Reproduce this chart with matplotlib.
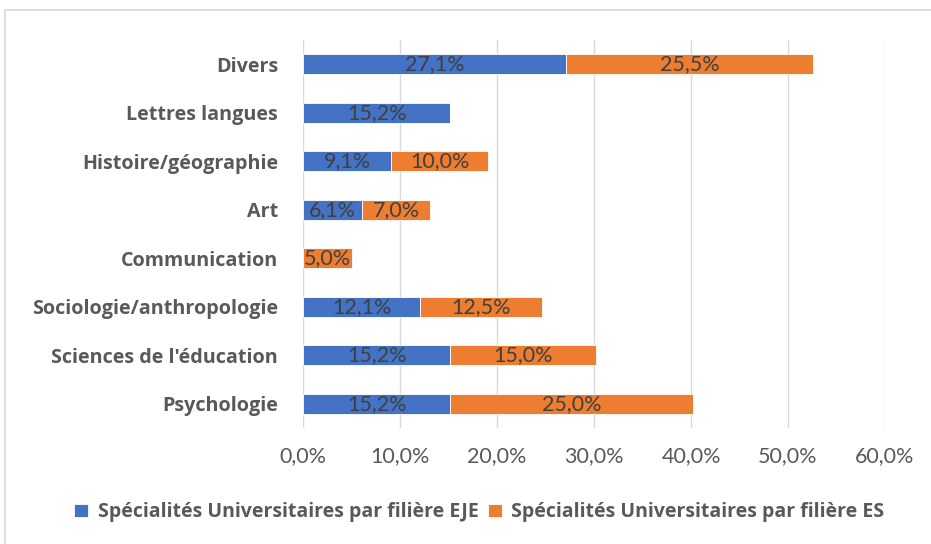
import matplotlib.pyplot as plt
from matplotlib.patches import Rectangle
import numpy as np

categories = ["Psychologie", "Sciences de l'éducation", "Sociologie/anthropologie",
              "Communication", "Art", "Histoire/géographie", "Lettres langues", "Divers"]
eje = [15.2, 15.2, 12.1, 0.0, 6.1, 9.1, 15.2, 27.1]
es = [25.0, 15.0, 12.5, 5.0, 7.0, 10.0, 0.0, 25.5]
series_names = ["Spécialités Universitaires par filière EJE",
                "Spécialités Universitaires par filière ES"]
xticks = [0, 10, 20, 30, 40, 50, 60]

blue = "#4472C4"
orange = "#ED7D31"
txt = "#595959"

plt.rcParams['font.family'] = ['Lato', 'DejaVu Sans']
bold_font = {"family": ["Open Sans", "DejaVu Sans"], "weight": "bold"}

fig = plt.figure(figsize=(9.31, 5.44), dpi=100)
ax = fig.add_axes([0.3255, 0.2132, 0.6251, 0.7133])

y = np.arange(len(categories))
b1 = ax.barh(y, eje, height=0.42, color=blue, edgecolor="white", linewidth=0.6,
             label=series_names[0], zorder=3)
b2 = ax.barh(y, es, left=eje, height=0.42, color=orange, edgecolor="white", linewidth=0.6,
             label=series_names[1], zorder=3)

for bars, vals, lefts in [(b1, eje, [0] * len(eje)), (b2, es, eje)]:
    for yi, v, l in zip(y, vals, lefts):
        if v > 0:
            ax.text(l + v / 2, yi, f"{v:.1f}%".replace(".", ","), ha="center", va="center",
                    fontsize=15.5, color="#404040", zorder=4)

ax.set_xlim(0, 60)
ax.set_ylim(-0.5, len(categories) - 0.5)
ax.set_xticks(xticks)
ax.set_xticklabels([f"{t:.1f}%".replace(".", ",") for t in xticks], fontsize=15.5, color=txt)
ax.set_yticks(y)
ax.set_yticklabels(categories, fontsize=14.2, color=txt, fontdict=bold_font)
ax.tick_params(axis="both", length=0)
ax.tick_params(axis="x", pad=13)
ax.tick_params(axis="y", pad=18)
ax.grid(axis="x", color="#D9D9D9", linewidth=1, zorder=0)
for s in ax.spines.values():
    s.set_visible(False)

leg = fig.legend(handles=[b1, b2], loc="center", bbox_to_anchor=(0.515, 0.058), ncol=2,
                 frameon=False, handlelength=0.7, handleheight=0.7, handletextpad=0.5,
                 columnspacing=0.5, prop={"size": 14, **bold_font})
for t in leg.get_texts():
    t.set_color(txt)

fig.patches.append(Rectangle((0.005, -0.05), 1.1, 1.032, transform=fig.transFigure,
                             fill=False, edgecolor="#D9D9D9", linewidth=1.2))

fig.savefig("out.png", dpi=100)
